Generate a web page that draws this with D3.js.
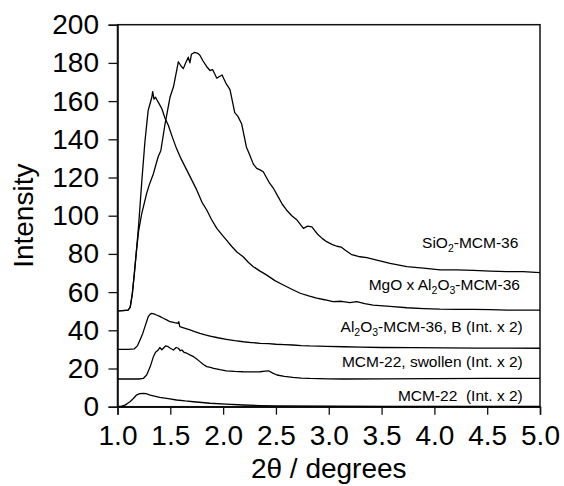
<!DOCTYPE html>
<html>
<head>
<meta charset="utf-8">
<script src="https://cdn.jsdelivr.net/npm/d3@7"></script>
<style>
  html, body { margin: 0; padding: 0; background: #fff; }
  svg { display: block; }
  text { font-family: "Liberation Sans", Arial, sans-serif; fill: #000; }
</style>
</head>
<body>
<svg id="chart" width="564" height="486"></svg>
<script>
// Low-angle XRD patterns: [2θ (degrees), intensity]
const sio2Mcm36 = [
  [1.00,50.2],[1.05,50.3],[1.10,50.6],[1.12,52],[1.14,59],[1.16,70],[1.18,82],[1.20,92],
  [1.229,101],[1.245,104.6],[1.276,111.7],[1.30,116],[1.34,122],[1.37,128],[1.386,131],[1.41,134],
  [1.45,148],[1.497,162],[1.53,167.5],[1.576,180.6],[1.60,178.5],[1.623,177],[1.645,180],[1.67,183],
  [1.685,180],[1.70,184.5],[1.73,185.5],[1.76,185],[1.78,184],[1.81,181],[1.845,178],[1.876,176],
  [1.90,176.5],[1.94,172],[1.97,173],[1.99,173.7],[2.03,169],[2.065,166],[2.11,154],[2.14,152],
  [2.176,148],[2.22,136],[2.25,132],[2.286,127],[2.318,124.8],[2.35,124],[2.38,123],[2.44,117],
  [2.48,114],[2.52,110],[2.56,106],[2.60,103],[2.65,100],[2.70,97.7],[2.76,93.4],[2.80,94.5],
  [2.84,94.2],[2.87,92],[2.90,90],[2.94,88],[2.98,86.4],[3.03,85],[3.076,84],[3.12,83.5],
  [3.154,82],[3.218,79.6],[3.296,78.5],[3.36,78],[3.455,76.8],[3.58,75],[3.74,73.3],[3.896,72.5],
  [4.054,71.6],[4.21,71.6],[4.37,71.4],[4.53,71],[4.686,70.7],[4.84,70.7],[5.00,70.2]
];
const mgoAl2o3Mcm36 = [
  [1.00,50.2],[1.05,50.3],[1.10,50.6],[1.12,52],[1.14,59],[1.16,70],[1.18,82],[1.20,95],
  [1.23,118],[1.26,139],[1.29,155],[1.31,159],[1.325,162],[1.333,165],[1.345,161],[1.36,162],
  [1.37,161],[1.40,158],[1.42,156],[1.45,151],[1.48,147.5],[1.52,141],[1.56,135],[1.60,130],
  [1.655,124],[1.70,119],[1.75,113.5],[1.80,107],[1.845,103],[1.89,98],[1.94,93.4],[1.99,90],
  [2.03,87.3],[2.08,84],[2.13,81],[2.19,78.5],[2.24,75.5],[2.286,73.3],[2.35,71],[2.41,69],
  [2.49,66],[2.57,63.7],[2.65,61.5],[2.73,59.4],[2.81,58],[2.886,56.8],[2.96,56],[3.04,55],
  [3.12,55.2],[3.20,54.5],[3.265,55],[3.34,54],[3.42,53.2],[3.58,52.5],[3.74,51.8],[3.90,51.4],
  [4.05,51.1],[4.21,51],[4.37,51],[4.53,50.8],[4.69,50.6],[4.85,50.6],[5.00,50.6]
];
const al2o3Mcm36B = [
  [1.00,30],[1.10,30],[1.16,30.3],[1.19,32],[1.213,34.9],[1.24,38.5],[1.26,41.9],[1.29,47],
  [1.31,48.5],[1.324,48.9],[1.35,48.5],[1.37,48],[1.40,47.3],[1.434,46.3],[1.47,45.3],[1.497,44.5],
  [1.54,44],[1.576,43.7],[1.58,44.5],[1.59,41.9],[1.64,41],[1.687,40.2],[1.73,39.3],[1.78,38.4],
  [1.83,37.6],[1.876,37],[1.95,36.1],[2.03,35.3],[2.11,34.6],[2.19,34],[2.27,33.6],[2.35,33.2],
  [2.43,33],[2.50,32.7],[2.58,32.5],[2.66,32.3],[2.74,32],[2.82,31.8],[2.98,31.6],[3.14,31.4],
  [3.30,31.2],[3.50,31],[3.80,30.9],[4.10,30.8],[4.40,30.7],[4.70,30.7],[5.00,30.6]
];
const mcm22Swollen = [
  [1.00,14.5],[1.10,14.5],[1.20,14.5],[1.244,14.8],[1.276,16.6],[1.31,21],[1.34,26.2],[1.36,28.5],
  [1.386,29.7],[1.40,31],[1.42,29.8],[1.434,30.6],[1.455,31.8],[1.48,31.4],[1.50,30.6],[1.53,29.7],
  [1.555,31],[1.576,30.6],[1.595,29.3],[1.61,29.7],[1.63,28.5],[1.655,28],[1.69,27],[1.72,26.2],
  [1.75,25],[1.78,23.6],[1.81,22.2],[1.845,21],[1.88,20.6],[1.91,20.1],[1.97,19.4],[2.03,18.8],
  [2.11,18.5],[2.19,18.3],[2.27,18.2],[2.35,18.3],[2.40,18.6],[2.43,18.8],[2.47,17.6],[2.51,16.6],
  [2.58,15.9],[2.66,15.4],[2.74,15],[2.82,14.8],[3.00,14.6],[3.14,14.5],[3.50,14.6],[4.00,14.7],
  [4.50,14.8],[5.00,14.8]
];
const mcm22 = [
  [1.00,0.2],[1.04,0.3],[1.07,0.8],[1.09,1.5],[1.118,2.6],[1.15,4.3],[1.18,6.1],[1.21,6.8],
  [1.244,7],[1.27,6.8],[1.31,6.1],[1.35,5.5],[1.40,4.9],[1.48,4.2],[1.56,3.5],[1.64,3],
  [1.72,2.6],[1.80,2.2],[1.876,1.8],[2.03,1.3],[2.19,0.9],[2.35,0.6],[2.50,0.4],[3.00,0.3],
  [3.50,0.2],[4.00,0.2],[4.50,0.2],[5.00,0.2]
];

const xTicks = [1.0, 1.5, 2.0, 2.5, 3.0, 3.5, 4.0, 4.5, 5.0];
const yTicks = [0, 20, 40, 60, 80, 100, 120, 140, 160, 180, 200];

// Curve labels: pieces are [text, isSubscript]; anchored at the right end, at [2θ, intensity]
const seriesLabels = [
  { parts: [["SiO", 0], ["2", 1], ["-MCM-36", 0]], at: [4.795, 83.2] },
  { parts: [["MgO x Al", 0], ["2", 1], ["O", 0], ["3", 1], ["-MCM-36", 0]], at: [4.81, 61] },
  { parts: [["Al", 0], ["2", 1], ["O", 0], ["3", 1], ["-MCM-36, B (Int. x 2)", 0]], at: [4.837, 39.3] },
  { parts: [["MCM-22, swollen (Int. x 2)", 0]], at: [4.837, 20.9] },
  { parts: [["MCM-22\u00a0\u00a0(Int. x 2)", 0]], at: [4.837, 3.1] }
];

const svg = d3.select("#chart");
const margin = { left: 117.5, top: 24.7, right: 24, bottom: 79.3 };
const W = 564 - margin.left - margin.right;
const H = 486 - margin.top - margin.bottom;

const x = d3.scaleLinear().domain([1, 5]).range([0, W]);
const y = d3.scaleLinear().domain([0, 200]).range([H, 0]);

const g = svg.append("g").attr("transform", `translate(${margin.left},${margin.top})`);

// frame
g.append("rect")
  .attr("x", 0).attr("y", 0).attr("width", W).attr("height", H)
  .attr("fill", "none").attr("stroke", "#111").attr("stroke-width", 1.5);

// axes
const xAxis = d3.axisBottom(x).tickValues(xTicks).tickFormat(d3.format(".1f"))
  .tickSize(8).tickPadding(10);
const yAxis = d3.axisLeft(y).tickValues(yTicks).tickFormat(d3.format("d"))
  .tickSize(9).tickPadding(9.5);

const gx = g.append("g").attr("transform", `translate(0,${H})`).call(xAxis);
const gy = g.append("g").call(yAxis);
[gx, gy].forEach(a => {
  a.select(".domain").attr("stroke", "#111").attr("stroke-width", 1.5);
  a.selectAll(".tick line").attr("stroke", "#111").attr("stroke-width", 1.3);
  a.selectAll(".tick text")
    .attr("font-family", "'Liberation Sans', Arial, sans-serif")
    .attr("font-size", 28).attr("fill", "#000");
});

// curves
const line = d3.line().x(d => x(d[0])).y(d => y(d[1]));
[sio2Mcm36, mgoAl2o3Mcm36, al2o3Mcm36B, mcm22Swollen, mcm22].forEach(s => {
  g.append("path").datum(s).attr("d", line)
    .attr("fill", "none").attr("stroke", "#000").attr("stroke-width", 1.3)
    .attr("stroke-linejoin", "round");
});

// curve labels
seriesLabels.forEach(lb => {
  const t = g.append("text")
    .attr("x", x(lb.at[0])).attr("y", y(lb.at[1]))
    .attr("text-anchor", "end").attr("font-size", 15.5);
  let sub = false;
  lb.parts.forEach(([txt, isSub]) => {
    const ts = t.append("tspan").text(txt);
    if (isSub && !sub) { ts.attr("dy", 4).attr("font-size", 10.5); sub = true; }
    else if (isSub) { ts.attr("font-size", 10.5); }
    else if (sub) { ts.attr("dy", -4); sub = false; }
  });
});

// axis titles
svg.append("text")
  .attr("x", margin.left + W / 2).attr("y", 478)
  .attr("text-anchor", "middle").attr("font-size", 28)
  .text("2\u03b8 / degrees");

svg.append("text")
  .attr("transform", `translate(33,${margin.top + H / 2}) rotate(-90)`)
  .attr("text-anchor", "middle").attr("font-size", 28)
  .text("Intensity");
</script>
</body>
</html>
